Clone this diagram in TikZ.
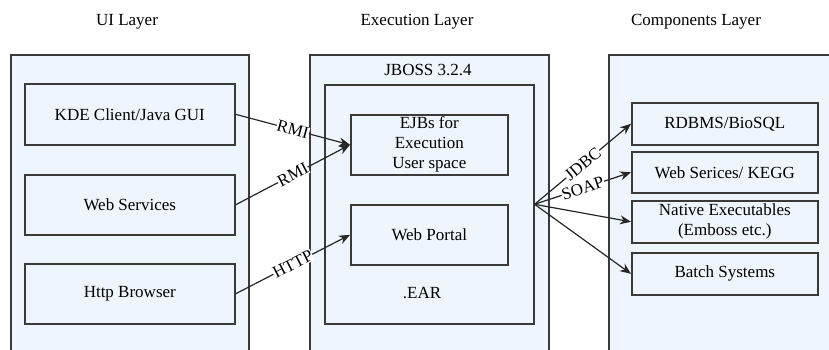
\documentclass[tikz,border=0pt]{standalone}
\usepackage{fontspec}
\setmainfont{Liberation Serif}
\usetikzlibrary{arrows.meta}
\definecolor{panelfill}{HTML}{EEF5FC}
\definecolor{edgecol}{HTML}{3A3A3A}
\begin{document}
\begin{tikzpicture}[x=1pt,y=-1pt,
  txt/.style={font=\fontsize{17}{20}\selectfont},
  panel/.style={draw=edgecol,line width=1.6pt,fill=panelfill,anchor=north west,inner sep=0},
  box/.style={draw=edgecol,line width=1.6pt,fill=panelfill,align=center,txt,inner sep=0,anchor=north west},
  conn/.style={draw=black!85,line width=1.2pt,-{Stealth[length=11pt,width=9pt]}},
  lab/.style={txt,fill=white,inner sep=0.5pt,sloped}]
\useasboundingbox (0,0) rectangle (829,349);
\clip (0,0) rectangle (829,349);
% headings
\node[txt] (h1) at (127,22) {UI Layer};
\node[txt] (h2) at (417,22) {Execution Layer};
\node[txt] (h3) at (696,22) {Components Layer};
% panels
\node[panel,minimum width=238,minimum height=310] (pl) at (10,54) {};
\node[panel,minimum width=239,minimum height=310] (pm) at (309,54) {};
\node[panel,minimum width=240,minimum height=310] (pr) at (608,54) {};
\node[txt] (jboss) at (428,70) {JBOSS 3.2.4};
\node[panel,minimum width=209,minimum height=239] (ear) at (324,84) {};
\node[txt] (eartxt) at (422,293) {.EAR};
% UI boxes
\node[box,minimum width=210,minimum height=61] (kde) at (24,83) {KDE Client/Java GUI};
\node[box,minimum width=210,minimum height=60] (ws) at (24,174) {Web Services};
\node[box,minimum width=210,minimum height=60] (http) at (24,263) {Http Browser};
% execution boxes
\node[box,minimum width=157,minimum height=60] (ejb) at (350,114) {EJBs for\\Execution\\User space};
\node[box,minimum width=157,minimum height=60] (portal) at (350,204) {Web Portal};
% component boxes
\node[box,minimum width=186,minimum height=42] (rdb) at (631,102) {RDBMS/BioSQL};
\node[box,minimum width=186,minimum height=41] (kegg) at (631,151) {Web Serices/ KEGG};
\node[box,minimum width=186,minimum height=42] (nat) at (631,200) {Native Executables\\(Emboss etc.)};
\node[box,minimum width=186,minimum height=42] (batch) at (631,252) {Batch Systems};
% connectors
\draw[conn] (kde.east) -- node[lab]{RMI} (ejb.west);
\draw[conn] (ws.east) -- node[lab]{RMI} (ejb.west);
\draw[conn] (http.east) -- node[lab]{HTTP} (portal.west);
\draw[conn] (ear.east) -- node[lab]{JDBC} (rdb.west);
\draw[conn] (ear.east) -- node[lab]{SOAP} (kegg.west);
\draw[conn] (ear.east) -- (nat.west);
\draw[conn] (ear.east) -- (batch.west);
\end{tikzpicture}
\end{document}
